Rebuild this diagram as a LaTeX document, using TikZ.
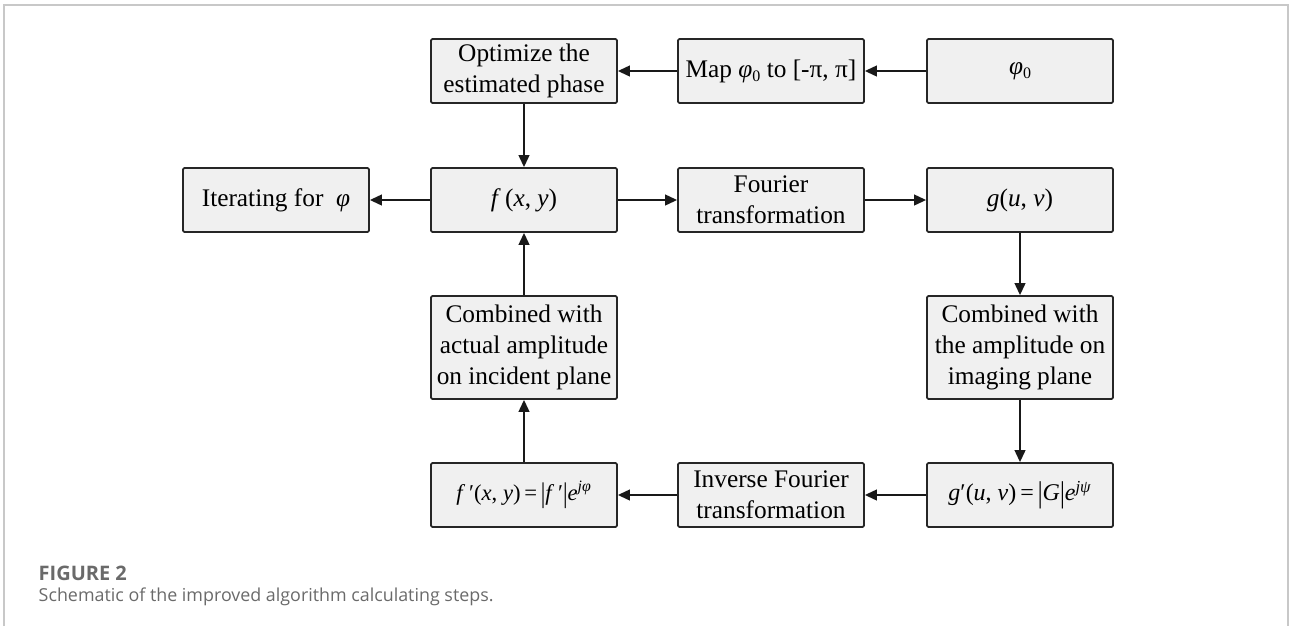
\documentclass[tikz,border=0pt]{standalone}
\usepackage{fontspec}
\setmainfont{Liberation Serif}
\newfontfamily\capfont{Open Sans}
\usetikzlibrary{arrows.meta}

\definecolor{boxfill}{HTML}{F0F0F0}
\definecolor{framegray}{HTML}{C8C8C8}
\definecolor{capgray}{HTML}{6A6A6A}

% italic letters set in the text face
\newcommand{\vr}[1]{\textit{#1}}
\newcommand{\lowidx}[1]{\raisebox{-0.35ex}{\fontsize{12}{12}\selectfont #1}}
\newcommand{\bigbar}{\raisebox{-0.2ex}{\scalebox{1}[1.25]{|}}}

\begin{document}
\begin{tikzpicture}[
  x=0.75pt, y=-0.75pt,
  stepbox/.style={rectangle, draw=black!85, line width=1.3pt, fill=boxfill, rounded corners=1pt,
    minimum width=139.5pt, minimum height=48pt, inner sep=2pt, align=center,
    font=\fontsize{19}{23}\selectfont},
  tallbox/.style={stepbox, minimum height=77.25pt},
  flow/.style={-{Triangle[length=9pt, width=8pt]}, line width=1.5pt, black!90},
]
  \useasboundingbox (0,0) rectangle (1290,626);
  % outer frame of the figure
  \draw[framegray, line width=1.5pt] (4,626) -- (4,5) -- (1288,5) -- (1288,626);

  % Top row
  \node[stepbox] (optim) at (524,71) {Optimize the\\estimated phase};
  \node[stepbox] (mapto) at (771,71) {Map \vr{φ}\lowidx{0} to [-π, π]};
  \node[stepbox] (phi0) at (1020,71) {\vr{φ}\lowidx{0}};

  % Middle row
  \node[stepbox] (iter) at (276,200) {Iterating for \ \vr{φ}};
  \node[stepbox] (fxy) at (524,200) {\vr{f}\,(\vr{x}, \vr{y})};
  \node[stepbox] (fourier) at (771,200) {Fourier\\transformation};
  \node[stepbox] (guv) at (1020,200) {\vr{g}(\vr{u}, \vr{v})};

  % Amplitude constraints
  \node[tallbox] (combL) at (524,347.5) {Combined with\\actual amplitude\\on incident plane};
  \node[tallbox] (combR) at (1020,347.5) {Combined with\\the amplitude on\\imaging plane};

  % Bottom row
  \node[stepbox, font=\fontsize{17}{20}\selectfont] (fprime) at (524,495)
    {\vr{f}\,′(\vr{x}, \vr{y})\,=\,\bigbar\vr{f}\,′\bigbar\vr{e}\textsuperscript{\vr{jφ}}};
  \node[stepbox] (inverse) at (771,495) {Inverse Fourier\\transformation};
  \node[stepbox, font=\fontsize{18}{20}\selectfont] (gprime) at (1020,495)
    {\vr{g}′(\vr{u}, \vr{v})\,=\,\bigbar\vr{G}\bigbar\vr{e}\textsuperscript{\vr{jψ}}};

  % Arrows
  \draw[flow] (phi0) -- (mapto);
  \draw[flow] (mapto) -- (optim);
  \draw[flow] (optim) -- (fxy);
  \draw[flow] (fxy) -- (iter);
  \draw[flow] (fxy) -- (fourier);
  \draw[flow] (fourier) -- (guv);
  \draw[flow] (guv) -- (combR);
  \draw[flow] (combR) -- (gprime);
  \draw[flow] (gprime) -- (inverse);
  \draw[flow] (inverse) -- (fprime);
  \draw[flow] (fprime) -- (combL);
  \draw[flow] (combL) -- (fxy);

  % Caption
  \node[anchor=west, capgray, font=\capfont\fontsize{15}{18}\selectfont\bfseries] (figno) at (34,573) {FIGURE 2};
  \node[anchor=west, capgray, font=\capfont\fontsize{13.4}{16}\selectfont] (figcap) at (34,597) {Schematic of the improved algorithm calculating steps.};
\end{tikzpicture}
\end{document}
